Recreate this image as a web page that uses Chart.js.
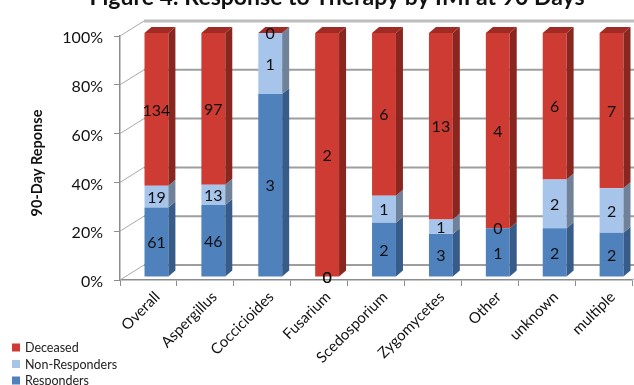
<!DOCTYPE html>
<html>
<head>
<meta charset="utf-8">
<script src="https://cdn.jsdelivr.net/npm/chart.js@4/dist/chart.umd.min.js"></script>
<style>
  html, body { margin: 0; padding: 0; background: #fff; }
  #wrap { width: 634px; height: 385px; position: relative; }
</style>
</head>
<body>
<div id="wrap"><canvas id="c" width="634" height="385"></canvas></div>
<script>
// Outcome counts per infection group at 90 days
const categories = ['Overall', 'Aspergillus', 'Coccicioides', 'Fusarium', 'Scedosporium', 'Zygomycetes', 'Other', 'unknown', 'multiple'];
const responders    = [61, 46, 3, 0, 2, 3, 1, 2, 2];
const nonResponders = [19, 13, 1, 0, 1, 1, 0, 2, 2];
const deceased      = [134, 97, 0, 2, 6, 13, 4, 6, 7];
const yTicks = [0, 20, 40, 60, 80, 100];
const titleText = 'Figure 4: Response to Therapy by IMI at 90 Days';
const yTitleText = '90-Day Reponse';

const totals = categories.map((_, i) => responders[i] + nonResponders[i] + deceased[i]);
const share = arr => arr.map((v, i) => v / totals[i] * 100);

// front colour, side colour, top colour
const palette = {
  Responders:       ['#4F81BD', '#375C89', '#6A93C6'],
  'Non-Responders': ['#A7C5EA', '#6F8299', '#BCD2EE'],
  Deceased:         ['#CD3B32', '#8A2620', '#A02B25']
};

const series = [
  { label: 'Responders', counts: responders },
  { label: 'Non-Responders', counts: nonResponders },
  { label: 'Deceased', counts: deceased }
];

const FONT = 'Lato, "Liberation Sans", sans-serif';
const AXIS = '#8c8c8c';

// 3D look: bars sit part-way back, back wall lines further back
const bar3d = { shiftX: 8, shiftY: -3, depthX: 7, depthY: -6, wallX: 24, wallY: -15 };

const depthPlugin = {
  id: 'depth3d',
  beforeDatasetsDraw(chart) {
    const { ctx, chartArea: a, scales: { y } } = chart;
    ctx.save();
    yTicks.forEach(v => {
      const py = y.getPixelForValue(v);
      ctx.beginPath();
      ctx.strokeStyle = v === 100 ? '#bdbdbd' : '#9e9e9e';
      ctx.lineWidth = v === 100 ? 3 : 2;
      ctx.moveTo(a.left + bar3d.wallX, py + bar3d.wallY);
      ctx.lineTo(chart.width, py + bar3d.wallY);
      ctx.stroke();
      ctx.beginPath();
      ctx.strokeStyle = '#a8a8a8';
      ctx.lineWidth = 1;
      ctx.moveTo(a.left, py);
      ctx.lineTo(a.left + bar3d.wallX, py + bar3d.wallY);
      ctx.stroke();
    });
    const py0 = y.getPixelForValue(0);
    ctx.beginPath();
    ctx.strokeStyle = '#a8a8a8';
    ctx.lineWidth = 1;
    ctx.moveTo(a.right, py0);
    ctx.lineTo(a.right + bar3d.wallX, py0 + bar3d.wallY);
    ctx.stroke();
    ctx.restore();
    ctx.save();
    ctx.translate(bar3d.shiftX, bar3d.shiftY);
  },
  afterDatasetsDraw(chart) {
    const { ctx } = chart;
    const dx = bar3d.depthX, dy = bar3d.depthY;
    chart.data.datasets.forEach((ds, di) => {
      const meta = chart.getDatasetMeta(di);
      const cols = palette[ds.label];
      meta.data.forEach(el => {
        const left = el.x - el.width / 2, right = el.x + el.width / 2;
        const top = Math.min(el.y, el.base), bottom = Math.max(el.y, el.base);
        // side face
        ctx.beginPath();
        ctx.fillStyle = cols[1];
        ctx.moveTo(right, top);
        ctx.lineTo(right + dx, top + dy);
        ctx.lineTo(right + dx, bottom + dy);
        ctx.lineTo(right, bottom);
        ctx.closePath();
        ctx.fill();
        // top face on the uppermost segment
        if (di === chart.data.datasets.length - 1) {
          ctx.beginPath();
          ctx.fillStyle = cols[2];
          ctx.moveTo(left, top);
          ctx.lineTo(left + dx, top + dy);
          ctx.lineTo(right + dx, top + dy);
          ctx.lineTo(right, top);
          ctx.closePath();
          ctx.fill();
        }
      });
    });
    // count labels centred on each segment
    ctx.fillStyle = '#111';
    ctx.font = '16px ' + FONT;
    ctx.textAlign = 'center';
    ctx.textBaseline = 'middle';
    chart.data.datasets.forEach((ds, di) => {
      const meta = chart.getDatasetMeta(di);
      meta.data.forEach((el, i) => {
        ctx.fillText(String(ds.counts[i]), el.x, (el.y + el.base) / 2 + 1);
      });
    });
    ctx.restore();
  },
  afterDraw(chart) {
    const { ctx } = chart;
    ctx.save();
    // chart title (runs off the top edge)
    ctx.fillStyle = '#111';
    ctx.font = 'bold 23px ' + FONT;
    ctx.textAlign = 'center';
    ctx.textBaseline = 'alphabetic';
    ctx.fillText(titleText, 337, 4.5);
    // value axis title
    ctx.save();
    ctx.translate(37, 163);
    ctx.rotate(-Math.PI / 2);
    ctx.font = 'bold 14.5px ' + FONT;
    ctx.textBaseline = 'middle';
    ctx.fillText(yTitleText, 0, 0);
    ctx.restore();
    // legend, top to bottom in stacking order
    ctx.font = '12.5px ' + FONT;
    ctx.textAlign = 'left';
    ctx.textBaseline = 'middle';
    const items = chart.data.datasets.slice().reverse();
    items.forEach((ds, k) => {
      const cy = 347.5 + k * 16.5;
      ctx.fillStyle = palette[ds.label][0];
      ctx.fillRect(12, cy - 4, 8, 8);
      ctx.fillStyle = '#222';
      ctx.fillText(ds.label, 25, cy + 0.5);
    });
    ctx.restore();
  }
};

new Chart(document.getElementById('c'), {
  type: 'bar',
  data: {
    labels: categories,
    datasets: series.map(s => ({
      label: s.label,
      data: share(s.counts),
      counts: s.counts,
      backgroundColor: palette[s.label][0],
      borderWidth: 0,
      barPercentage: 0.42,
      categoryPercentage: 1,
      clip: false
    }))
  },
  options: {
    responsive: false,
    animation: false,
    events: [],
    layout: { padding: { top: 36, right: 2, left: 0, bottom: 0 } },
    plugins: { legend: { display: false }, title: { display: false }, tooltip: { enabled: false } },
    scales: {
      x: {
        stacked: true,
        grid: { display: true, drawOnChartArea: false, drawTicks: true, tickLength: 6, offset: true, color: AXIS },
        border: { color: AXIS, width: 1.5 },
        ticks: { maxRotation: 45, minRotation: 45, autoSkip: false, padding: 2, labelOffset: 9, color: '#111', font: { family: FONT, size: 15 } },
        afterFit(s) { s.height = 105; }
      },
      y: {
        stacked: true,
        min: 0,
        max: 100,
        afterBuildTicks(s) { s.ticks = yTicks.map(v => ({ value: v })); },
        grid: { display: true, drawOnChartArea: false, drawTicks: true, tickLength: 6, color: AXIS },
        border: { color: AXIS, width: 1.5 },
        ticks: { padding: 11, labelOffset: 2, color: '#111', font: { family: FONT, size: 16 }, callback: v => v + '%' },
        afterFit(s) { s.width = 120; }
      }
    }
  },
  plugins: [depthPlugin]
});
</script>
</body>
</html>
